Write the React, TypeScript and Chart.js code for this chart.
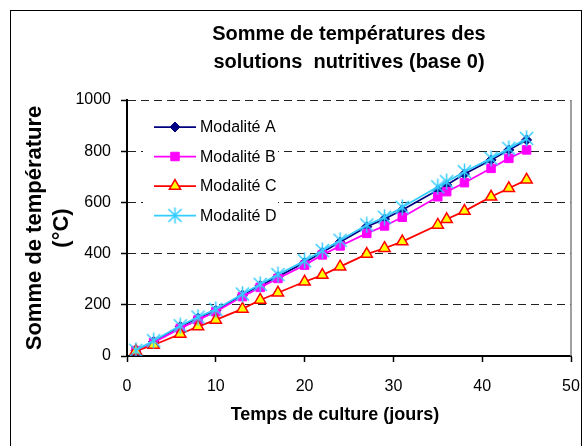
import React, { useEffect, useRef } from 'react';
import { Chart, registerables } from 'chart.js';
import { drawPoint } from 'chart.js/helpers';

Chart.register(...registerables);

// ---- data ----
const days = [1, 3, 6, 8, 10, 13, 15, 17, 20, 22, 24, 27, 29, 31, 35, 36, 38, 41, 43, 45];
const modA = [20, 57, 115, 148, 178, 238, 275, 310, 365, 405, 445, 505, 535, 570, 648, 668, 711, 766, 805, 844];
const modB = [21, 53, 108, 141, 173, 232, 268, 303, 355, 395, 430, 479, 508, 542, 622, 642, 677, 733, 772, 805];
const modC = [20, 43, 86, 115, 141, 184, 219, 247, 290, 316, 349, 398, 421, 447, 512, 534, 566, 622, 655, 688];
const modD = [22, 60, 118, 152, 182, 242, 280, 318, 372, 412, 452, 512, 542, 581, 661, 681, 720, 772, 811, 850];
const seriesNames = ['Modalité A', 'Modalité B', 'Modalité C', 'Modalité D'];
const titleLines = ['Somme de températures des', 'solutions  nutritives (base 0)'];
const xTitle = 'Temps de culture (jours)';
const yTitle = ['Somme de température', '(°C)'];

const FONT = "'Liberation Sans', Arial, sans-serif";

function makeStar(color: string, size: number, lw: number) {
  const c = document.createElement('canvas');
  c.width = size;
  c.height = size;
  const g = c.getContext('2d')!;
  g.strokeStyle = color;
  g.lineWidth = lw;
  g.lineCap = 'butt';
  const m = size / 2;
  const r = size / 2 - 0.5;
  const d = r * 0.82;
  g.beginPath();
  g.moveTo(m, m - r);
  g.lineTo(m, m + r);
  g.moveTo(m - d, m - d);
  g.lineTo(m + d, m + d);
  g.moveTo(m + d, m - d);
  g.lineTo(m - d, m + d);
  g.stroke();
  return c;
}

const toPts = (arr: number[]) => days.map((d, i) => ({ x: d, y: arr[i] }));

const legendPlugin = {
  id: 'insideLegend',
  afterDatasetsDraw(chart: any) {
    const { ctx, chartArea } = chart;
    const bx = chartArea.left + 16;
    const by = chartArea.top + 9;
    ctx.save();
    ctx.fillStyle = '#ffffff';
    ctx.fillRect(bx, by, 135, 122);
    const lx0 = chartArea.left + 27;
    const lx1 = chartArea.left + 69;
    const tx = chartArea.left + 73;
    chart.data.datasets.forEach((ds: any, i: number) => {
      const y = chartArea.top + 27 + i * 29.5;
      ctx.strokeStyle = ds.borderColor;
      ctx.lineWidth = ds.borderWidth;
      ctx.setLineDash([]);
      ctx.beginPath();
      ctx.moveTo(lx0, y);
      ctx.lineTo(lx1, y);
      ctx.stroke();
      ctx.fillStyle = ds.pointBackgroundColor;
      ctx.strokeStyle = ds.pointBorderColor;
      ctx.lineWidth = ds.pointBorderWidth;
      drawPoint(ctx, { pointStyle: ds.pointStyle, rotation: 0, radius: ds.pointRadius, borderWidth: ds.pointBorderWidth }, (lx0 + lx1) / 2, y);
      ctx.fillStyle = '#000000';
      ctx.font = `16px ${FONT}`;
      ctx.textAlign = 'left';
      ctx.textBaseline = 'middle';
      ctx.fillText(ds.label, tx, y + 1);
    });
    // right border of plot area
    ctx.strokeStyle = '#808080';
    ctx.lineWidth = 1.5;
    ctx.beginPath();
    ctx.moveTo(chartArea.right, chartArea.top);
    ctx.lineTo(chartArea.right, chartArea.bottom);
    ctx.stroke();
    // x axis title
    ctx.fillStyle = '#000000';
    ctx.font = `bold 18px ${FONT}`;
    ctx.textAlign = 'center';
    ctx.textBaseline = 'middle';
    ctx.fillText(xTitle, (chartArea.left + chartArea.right) / 2 - 14, chartArea.bottom + 59);
    ctx.restore();
  },
};

export default function App() {
  const ref = useRef<HTMLCanvasElement>(null);
  useEffect(() => {
    const star = makeStar('#33CCFF', 17, 1.5);
    const datasets = [
      {
        label: seriesNames[0], data: toPts(modA), borderColor: '#000080', backgroundColor: '#000080',
        pointBackgroundColor: '#000080', pointBorderColor: '#000080', pointBorderWidth: 1,
        pointStyle: 'rectRot', pointRadius: 5, borderWidth: 1.75, order: 3,
      },
      {
        label: seriesNames[1], data: toPts(modB), borderColor: '#FF00FF', backgroundColor: '#FF00FF',
        pointBackgroundColor: '#FF00FF', pointBorderColor: '#FF00FF', pointBorderWidth: 1,
        pointStyle: 'rect', pointRadius: 6, borderWidth: 1.75, order: 2,
      },
      {
        label: seriesNames[2], data: toPts(modC), borderColor: '#FF0000', backgroundColor: '#FFFF00',
        pointBackgroundColor: '#FFFF00', pointBorderColor: '#FF0000', pointBorderWidth: 1.5,
        pointStyle: 'triangle', pointRadius: 6.5, borderWidth: 1.75, order: 1,
      },
      {
        label: seriesNames[3], data: toPts(modD), borderColor: '#33CCFF', backgroundColor: '#33CCFF',
        pointBackgroundColor: '#33CCFF', pointBorderColor: '#33CCFF', pointBorderWidth: 1,
        pointStyle: star, pointRadius: 8, borderWidth: 1.75, order: 0,
      },
    ];
    const chart = new Chart(ref.current!, {
      type: 'line',
      data: { datasets } as any,
      options: {
        animation: false,
        responsive: false,
        devicePixelRatio: 1,
        layout: { padding: { left: 22, right: 14, top: 10, bottom: 6 } },
        plugins: {
          legend: { display: false },
          tooltip: { enabled: false },
          title: {
            display: true,
            text: titleLines,
            fullSize: false,
            color: '#000',
            font: { family: FONT, size: 20, weight: 'bold', lineHeight: 1.4 },
            padding: { top: 10, bottom: 24 },
          },
        },
        scales: {
          x: {
            type: 'linear',
            min: 0,
            max: 50,
            afterFit: (s: any) => { s.height = 84; s.paddingLeft = 0; s.paddingRight = 0; },
            ticks: { stepSize: 10, color: '#000', font: { family: FONT, size: 16 }, padding: 15, maxRotation: 0, callback: (v: any) => String(v) },
            grid: { drawOnChartArea: false, drawTicks: true, tickLength: 6, color: '#000', tickColor: '#000', tickWidth: 1.5 },
            border: { display: true, color: '#000', width: 2 },
            title: { display: false },
          },
          y: {
            type: 'linear',
            min: 0,
            max: 1000,
            afterFit: (s: any) => { s.width = 105; s.paddingTop = 0; s.paddingBottom = 0; },
            ticks: { stepSize: 200, color: '#000', font: { family: FONT, size: 16 }, padding: 10, callback: (v: any) => String(v) },
            grid: { drawTicks: true, tickLength: 6, color: '#222', lineWidth: 1, tickColor: '#000', tickWidth: 1.5, tickBorderDash: [] },
            border: { display: true, color: '#000', width: 2, dash: [8, 5] },
            title: {
              display: true, text: yTitle, color: '#000',
              font: { family: FONT, size: 22, weight: 'bold', lineHeight: 1.2 },
              padding: { top: 0, bottom: 0 },
            },
          },
        },
      } as any,
      plugins: [legendPlugin],
    });
    return () => chart.destroy();
  }, []);
  return (
    <div style={{ position: 'fixed', left: 0, top: 0, width: 585, height: 446, background: '#fff', overflow: 'hidden' }}>
      <canvas ref={ref} width={585} height={446} style={{ position: 'absolute', left: 0, top: 0, width: 585, height: 446 }} />
      <div style={{ position: 'absolute', left: 10, top: 10, width: 570, height: 460, border: '1px solid #000', pointerEvents: 'none' }} />
    </div>
  );
}
